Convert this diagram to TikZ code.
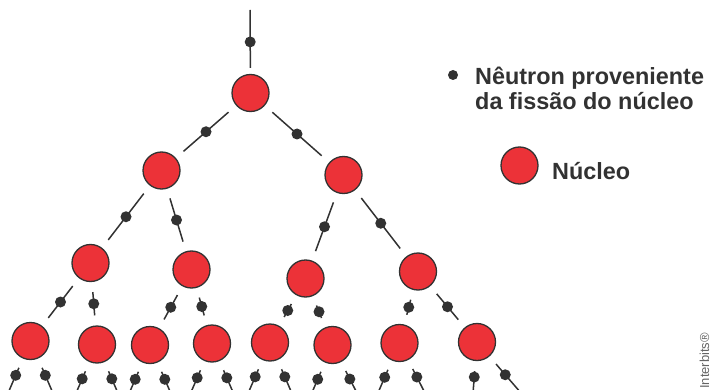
\documentclass[tikz,border=0pt]{standalone}
\usepackage{fontspec}
\setmainfont{Liberation Sans}
\usetikzlibrary{calc}
\definecolor{nucred}{RGB}{236,50,56}
\definecolor{ink}{RGB}{50,50,50}
\definecolor{credit}{RGB}{100,100,100}
\tikzset{
    nucleo/.style={circle, draw=ink, line width=1.3pt, fill=nucred, minimum size=37pt, inner sep=0pt},
    neutron/.style={draw=ink, line width=1.5pt, shorten <=10pt, shorten >=10pt},
    neudot/.style={circle, fill=ink, minimum size=11pt, inner sep=0pt},
    legenda/.style={anchor=base west, inner sep=0pt, text=ink, font=\bfseries\fontsize{23.4}{25}\selectfont}
}
\begin{document}
\begin{tikzpicture}[x=1pt, y=-1pt]
        \useasboundingbox (0,0) rectangle (711,390);

        % Nucleos
        \node[nucleo] (n0) at (250.5,93) {};
        \node[nucleo] (a1) at (161.5,170.5) {};
        \node[nucleo] (a2) at (343.5,175) {};
        \node[nucleo] (b1) at (90.5,263) {};
        \node[nucleo] (b2) at (191.5,269.5) {};
        \node[nucleo] (b3) at (305.5,278.5) {};
        \node[nucleo] (b4) at (418,271.5) {};
        \node[nucleo] (c1) at (30.5,341) {};
        \node[nucleo] (c2) at (97,344.5) {};
        \node[nucleo] (c3) at (150,345) {};
        \node[nucleo] (c4) at (212,343.5) {};
        \node[nucleo] (c5) at (270,342.5) {};
        \node[nucleo] (c6) at (332.5,345) {};
        \node[nucleo] (c7) at (399.5,343) {};
        \node[nucleo] (c8) at (477,342) {};

        % Neutron inicial
        \coordinate (src) at (250,10);
        \draw[neutron, shorten <=0pt, shorten >=6pt] (src) -- node[neudot] {} (n0);

        % Neutrons entre nucleos
        \foreach \p/\c in {n0/a1, n0/a2, a1/b1, a1/b2, a2/b3, a2/b4, b1/c1, b1/c2, b2/c3, b2/c4, b3/c5, b3/c6, b4/c7, b4/c8} {
            \draw[neutron] (\p) -- node[neudot] {} (\c);
        }

        % Neutrons que saem da ultima fila
        \foreach \c/\l/\r in {c1/-22/22, c2/-22/22, c3/-22/22, c4/-22/22, c5/-22/22, c6/-22/26, c7/-22/26, c8/-4/44} {
            \draw[neutron, shorten >=0pt] (\c) -- node[neudot] {} ($(\c)+(\l,51)$);
            \draw[neutron, shorten >=0pt] (\c) -- node[neudot] {} ($(\c)+(\r,51)$);
        }

        % Legenda
        \node[neudot, minimum size=10pt] (lgdot) at (453,75) {};
        \node[legenda, align=left] (lgtxt) at (475,109.3) {Nêutron proveniente\\da fissão do núcleo};
        \node[nucleo] (lgnuc) at (519.5,165.5) {};
        \node[legenda] (lgnuctxt) at (552,179) {Núcleo};

        % Credito
        \node[rotate=90, anchor=base west, inner sep=0pt, text=credit, font=\fontsize{13}{15}\selectfont] (credito) at (709,389) {Interbits®};

    \end{tikzpicture}
\end{document}
